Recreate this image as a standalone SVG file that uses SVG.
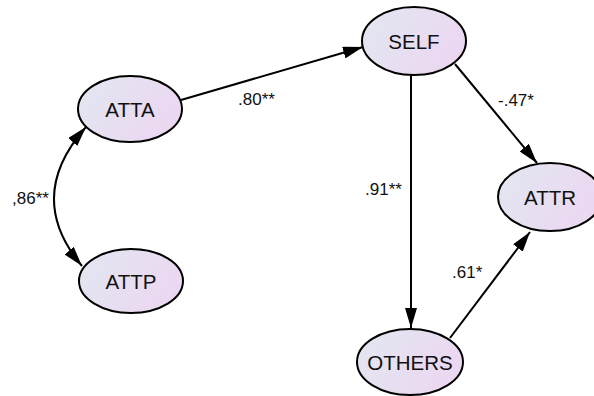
<svg xmlns="http://www.w3.org/2000/svg" width="594" height="396" viewBox="0 0 594 396">
<defs>
<linearGradient id="g" x1="0" y1="0.3" x2="1" y2="0.7">
<stop offset="0" stop-color="#e3e6f1"/>
<stop offset="1" stop-color="#ecd6f1"/>
</linearGradient>
<marker id="ah" viewBox="0 0 20 12" refX="20" refY="6" markerWidth="20" markerHeight="12" markerUnits="userSpaceOnUse" orient="auto-start-reverse">
<path d="M0,0 L20,6 L0,12 Z" fill="#000"/>
</marker>
</defs>
<style>
.n ellipse{fill:url(#g);stroke:#000;stroke-width:2}
.n text{font-family:"Liberation Sans",Arial,sans-serif;font-size:20.5px;text-anchor:middle;fill:#111}
.e path{fill:none;stroke:#000;stroke-width:2}
.l{font-family:"Liberation Sans",Arial,sans-serif;font-size:17px;fill:#111}
</style>
<rect width="594" height="396" fill="#fff"/>
<g id="connectors" class="e">
<path d="M181,100 L363,47" marker-end="url(#ah)"/>
<path d="M411,75 L411,328" marker-end="url(#ah)"/>
<path d="M455,64 L537,163" marker-end="url(#ah)"/>
<path d="M450,338 L530,232" marker-end="url(#ah)"/>
<path d="M86,127 Q24,197 82,266" marker-start="url(#ah)" marker-end="url(#ah)"/>
<text class="l" x="238" y="105">.80**</text>
<text class="l" x="365" y="195">.91**</text>
<text class="l" x="498" y="106">-.47*</text>
<text class="l" x="452" y="278">.61*</text>
<text class="l" x="12" y="204">,86**</text>
</g>
<g id="ATTA" class="n"><ellipse cx="130" cy="109" rx="52" ry="33"/><text x="130" y="117">ATTA</text></g>
<g id="ATTP" class="n"><ellipse cx="131" cy="281" rx="52" ry="32"/><text x="131" y="289">ATTP</text></g>
<g id="SELF" class="n"><ellipse cx="414" cy="41" rx="52" ry="34"/><text x="414" y="49">SELF</text></g>
<g id="ATTR" class="n"><ellipse cx="550" cy="197" rx="52" ry="34"/><text x="550" y="205">ATTR</text></g>
<g id="OTHERS" class="n"><ellipse cx="410" cy="362" rx="53" ry="33"/><text x="410" y="370">OTHERS</text></g>
</svg>
